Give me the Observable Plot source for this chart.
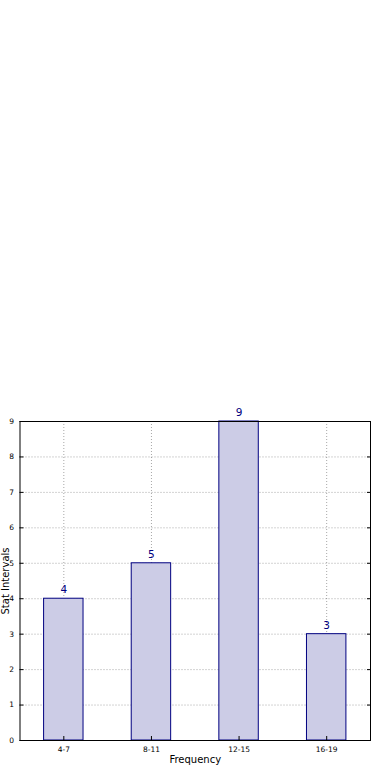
<!DOCTYPE html>
<html><head><meta charset="utf-8">
<script src="https://cdn.jsdelivr.net/npm/d3@7"></script>
<script src="https://cdn.jsdelivr.net/npm/@observablehq/plot@0.6"></script>
<style>body{margin:0;background:#fff}svg{display:block}</style>
</head><body><div id="chart"></div>
<script>
const categories = ["4-7", "8-11", "12-15", "16-19"];
const counts = [4, 5, 9, 3];
const yTicks = [0, 1, 2, 3, 4, 5, 6, 7, 8, 9];

const data = categories.map((c, i) => ({cat: c, n: counts[i]}));
const font = "DejaVu Sans, sans-serif";

const chart = Plot.plot({
  width: 390,
  height: 780,
  marginTop: 421,
  marginBottom: 40,
  marginLeft: 19.5,
  marginRight: 20,
  style: {fontFamily: font, background: "#fff", color: "#000"},
  x: {domain: categories, paddingInner: 0.55, paddingOuter: 0.275, round: false, label: null},
  y: {domain: [0, 9], label: null},
  marks: [
    Plot.ruleY(yTicks, {y: d => d, stroke: "#000", strokeOpacity: 0.35, strokeWidth: 1, strokeDasharray: "1,2"}),
    Plot.ruleX(categories, {x: d => d, stroke: "#000", strokeOpacity: 0.35, strokeWidth: 1, strokeDasharray: "1,2"}),
    Plot.barY(data, {x: "cat", y: "n", fill: "#ccccE6", stroke: "#000080", strokeWidth: 1}),
    Plot.text(data, {x: "cat", y: "n", text: d => String(d.n), dy: -9, fill: "#000080", fontSize: 10.5}),
    Plot.axisX({ticks: categories, tickSize: -4, tickPadding: 10, fontSize: 7.5, label: null}),
    Plot.axisY({ticks: yTicks, tickSize: -4, tickPadding: 10, fontSize: 7.5, label: null}),
    Plot.axisY({ticks: yTicks, anchor: "right", tickSize: -4, tickFormat: () => "", label: null}),
    Plot.frame({stroke: "#000", strokeWidth: 1}),
    Plot.text(["Frequency"], {frameAnchor: "bottom", dy: 22, fontSize: 10, fill: "#000"}),
    Plot.text(["Stat Intervals"], {frameAnchor: "left", dx: -14.5, rotate: -90, textAnchor: "middle", fontSize: 10, fill: "#000"})
  ]
});
document.getElementById("chart").append(chart);
</script></body></html>
